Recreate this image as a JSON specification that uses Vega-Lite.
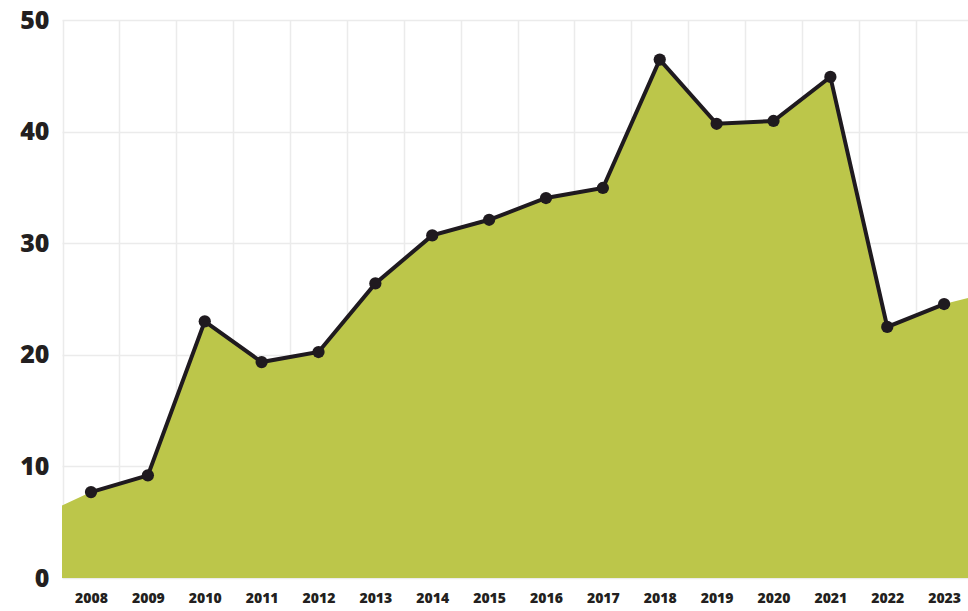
{
  "$schema": "https://vega.github.io/schema/vega-lite/v6.json",
  "width": 906,
  "height": 558,
  "autosize": {"type": "none"},
  "padding": {"left": 62, "top": 20, "right": 0, "bottom": 33},
  "background": "white",
  "config": {"view": {"stroke": null}},
  "datasets": {
    "series": [
      {"year": 2008, "value": 7.7},
      {"year": 2009, "value": 9.2},
      {"year": 2010, "value": 23.0},
      {"year": 2011, "value": 19.35},
      {"year": 2012, "value": 20.25},
      {"year": 2013, "value": 26.4},
      {"year": 2014, "value": 30.7},
      {"year": 2015, "value": 32.1},
      {"year": 2016, "value": 34.05},
      {"year": 2017, "value": 34.95},
      {"year": 2018, "value": 46.45},
      {"year": 2019, "value": 40.7},
      {"year": 2020, "value": 40.95},
      {"year": 2021, "value": 44.9},
      {"year": 2022, "value": 22.5},
      {"year": 2023, "value": 24.55}
    ],
    "fill": [
      {"year": 2007.49, "value": 6.5},
      {"year": 2008, "value": 7.7},
      {"year": 2009, "value": 9.2},
      {"year": 2010, "value": 23.0},
      {"year": 2011, "value": 19.35},
      {"year": 2012, "value": 20.25},
      {"year": 2013, "value": 26.4},
      {"year": 2014, "value": 30.7},
      {"year": 2015, "value": 32.1},
      {"year": 2016, "value": 34.05},
      {"year": 2017, "value": 34.95},
      {"year": 2018, "value": 46.45},
      {"year": 2019, "value": 40.7},
      {"year": 2020, "value": 40.95},
      {"year": 2021, "value": 44.9},
      {"year": 2022, "value": 22.5},
      {"year": 2023, "value": 24.55},
      {"year": 2023.42, "value": 25.1}
    ]
  },
  "layer": [
    {
      "data": {"name": "fill"},
      "mark": {"type": "area", "color": "#bcc64a", "opacity": 1},
      "encoding": {
        "x": {
          "field": "year", "type": "quantitative",
          "scale": {"domain": [2007.49, 2023.42], "nice": false, "zero": false},
          "axis": {
            "orient": "bottom",
            "values": [2007.5, 2008.5, 2009.5, 2010.5, 2011.5, 2012.5, 2013.5, 2014.5, 2015.5, 2016.5, 2017.5, 2018.5, 2019.5, 2020.5, 2021.5, 2022.5],
            "labels": false, "ticks": false, "domain": false, "title": null,
            "grid": true, "gridColor": "#ebebeb", "gridWidth": 1.5, "zindex": 0
          }
        },
        "y": {
          "field": "value", "type": "quantitative",
          "scale": {"domain": [0, 50], "nice": false},
          "axis": {
            "values": [0, 10, 20, 30, 40, 50],
            "title": null, "ticks": false, "domain": false,
            "grid": true, "gridColor": "#ebebeb", "gridWidth": 1.5,
            "labelFont": "Open Sans", "labelFontWeight": 800, "labelFontSize": 25,
            "labelColor": "#231f20", "labelPadding": 13, "zindex": 0
          }
        }
      }
    },
    {
      "data": {"name": "series"},
      "mark": {"type": "line", "color": "#1f1a1f", "strokeWidth": 4},
      "encoding": {
        "x": {
          "field": "year", "type": "quantitative",
          "axis": {
            "orient": "bottom",
            "values": [2008, 2009, 2010, 2011, 2012, 2013, 2014, 2015, 2016, 2017, 2018, 2019, 2020, 2021, 2022, 2023],
            "format": "d", "grid": false, "ticks": false, "domain": false, "title": null,
            "labelFont": "Open Sans", "labelFontWeight": 800, "labelFontSize": 14,
            "labelColor": "#231f20", "labelPadding": 13
          }
        },
        "y": {"field": "value", "type": "quantitative"}
      }
    },
    {
      "data": {"name": "series"},
      "mark": {"type": "point", "filled": true, "color": "#1f1a1f", "size": 150, "opacity": 1},
      "encoding": {
        "x": {"field": "year", "type": "quantitative", "axis": null},
        "y": {"field": "value", "type": "quantitative"}
      }
    }
  ],
  "resolve": {"axis": {"x": "independent"}}
}
